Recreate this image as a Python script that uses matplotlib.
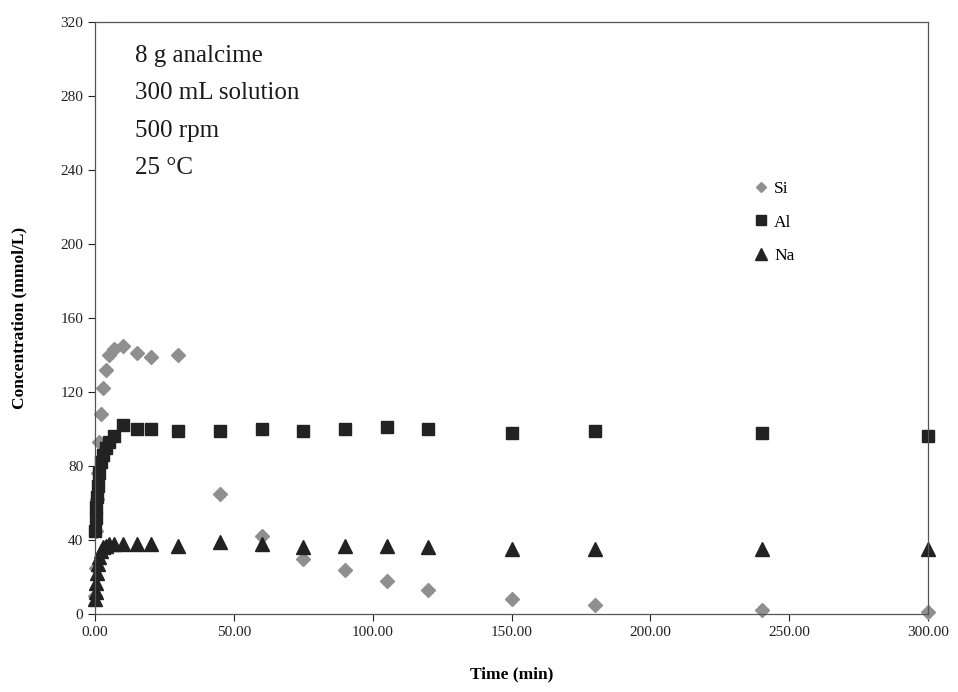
import numpy as np
import matplotlib
matplotlib.use("Agg")
import matplotlib.pyplot as plt

plt.rcParams['font.family'] = ['Liberation Serif', 'DejaVu Serif']

# ---------------- DATA ----------------
time_min = [0.1, 0.25, 0.5, 0.75, 1, 1.5, 2, 3, 4, 5, 7, 10, 15, 20,
            30, 45, 60, 75, 90, 105, 120, 150, 180, 240, 300]
si = [10, 25, 45, 62, 76, 93, 108, 122, 132, 140, 143, 145, 141, 139,
      140, 65, 42, 30, 24, 18, 13, 8, 5, 2, 1]
al = [45, 52, 58, 63, 69, 76, 82, 86, 90, 93, 96, 102, 100, 100,
      99, 99, 100, 99, 100, 101, 100, 98, 99, 98, 96]
na = [8, 12, 17, 22, 27, 31, 34, 36, 37, 38, 38, 38, 38, 38,
      37, 39, 38, 36, 37, 37, 36, 35, 35, 35, 35]

x_ticks = [0, 50, 100, 150, 200, 250, 300]
y_ticks = list(range(0, 321, 40))
notes = ["8 g analcime", "300 mL solution", "500 rpm", "25 \u00b0C"]

# ---------------- PLOT ----------------
fig = plt.figure(figsize=(9.58, 6.92), dpi=100)
ax = fig.add_axes([0.0992, 0.1127, 0.8697, 0.8555])

ax.plot(time_min, si, 'D', color='#8f8f8f', ms=7, ls='none', label='Si', clip_on=False)
ax.plot(time_min, al, 's', color='#222222', ms=9, ls='none', label='Al', clip_on=False)
ax.plot(time_min, na, '^', color='#222222', ms=10, ls='none', label='Na', clip_on=False)

ax.set_xlim(0, 300)
ax.set_ylim(0, 320)
ax.set_xticks(x_ticks)
ax.set_xticklabels([f"{v:.2f}" for v in x_ticks])
ax.set_yticks(y_ticks)
ax.tick_params(direction='out', length=5, width=0.8, labelsize=11, colors='#222222')
for s in ax.spines.values():
    s.set_color('#555555')
    s.set_linewidth(0.9)

ax.set_xlabel('Time (min)', fontsize=12.5, fontweight='bold', labelpad=20)
ax.set_ylabel('Concentration (mmol/L)', fontsize=12.5, fontweight='bold', labelpad=24)

for i, line in enumerate(notes):
    ax.text(0.048, 0.962 - i * 0.0635, line, transform=ax.transAxes,
            fontsize=18, va='top', ha='left', color='#1a1a1a')

ax.legend(loc='upper left', bbox_to_anchor=(0.765, 0.758), frameon=False,
          fontsize=12.5, handletextpad=0.0, handlelength=1.5,
          labelspacing=1.0, markerscale=0.8)

fig.savefig('out.png', dpi=100)
